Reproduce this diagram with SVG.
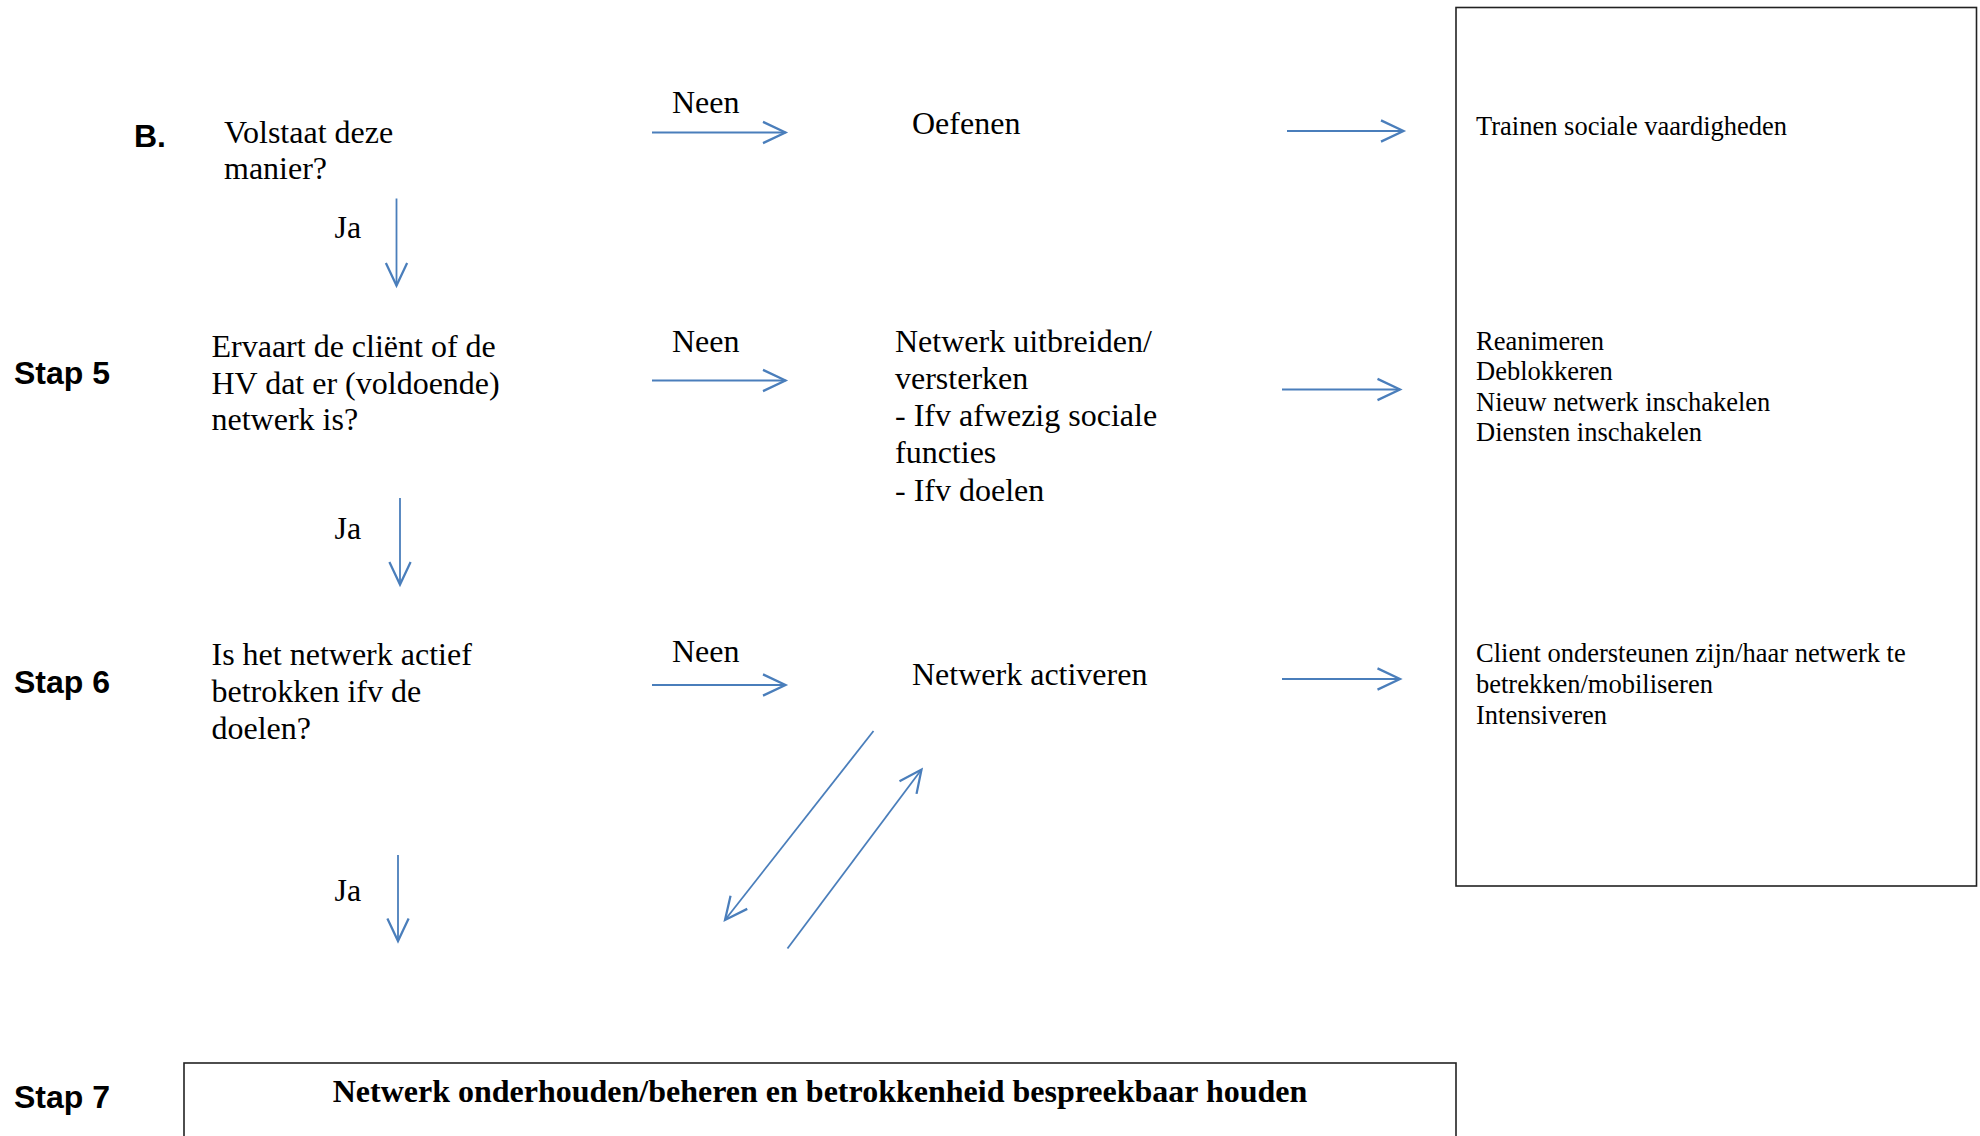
<svg xmlns="http://www.w3.org/2000/svg" width="1980" height="1136" viewBox="0 0 1980 1136">
<style>
.t{font-family:"Liberation Serif","Times New Roman",serif;font-size:32px;fill:#000}
.s{font-family:"Liberation Serif","Times New Roman",serif;font-size:26.5px;fill:#000}
.b{font-family:"Liberation Sans",Arial,sans-serif;font-size:32px;font-weight:bold;fill:#000}
.tb{font-family:"Liberation Serif","Times New Roman",serif;font-size:32px;font-weight:bold;fill:#000}
.box{fill:none;stroke:#222;stroke-width:1.6}
.a{fill:none;stroke:#4a7ebb;stroke-width:1.8;marker-end:url(#h)}
</style>
<defs>
<marker id="h" markerUnits="userSpaceOnUse" markerWidth="30" markerHeight="30" refX="0" refY="0" viewBox="-20 -12 24 24" orient="auto" overflow="visible">
<path d="M-18,-8.5 L0,0 L-18,8.5" fill="none" stroke="#4a7ebb" stroke-width="1.8"/>
</marker>
</defs>
<g id="labels">
<text class="b" x="134" y="147">B.</text>
<text class="b" x="14" y="384">Stap 5</text>
<text class="b" x="14" y="693">Stap 6</text>
<text class="b" x="14" y="1108">Stap 7</text>
</g>
<g id="q-volstaat">
<text class="t" x="224" y="143">Volstaat deze</text>
<text class="t" x="224" y="179">manier?</text>
</g>
<g id="q-ervaart">
<text class="t" x="211.5" y="357">Ervaart de cliënt of de</text>
<text class="t" x="211.5" y="394">HV dat er (voldoende)</text>
<text class="t" x="211.5" y="430">netwerk is?</text>
</g>
<g id="q-actief">
<text class="t" x="211.5" y="665">Is het netwerk actief</text>
<text class="t" x="211.5" y="702">betrokken ifv de</text>
<text class="t" x="211.5" y="739">doelen?</text>
</g>
<g id="oefenen">
<text class="t" x="912" y="134">Oefenen</text>
</g>
<g id="uitbreiden">
<text class="t" x="895" y="352">Netwerk uitbreiden/</text>
<text class="t" x="895" y="389">versterken</text>
<text class="t" x="895" y="426">- Ifv afwezig sociale</text>
<text class="t" x="895" y="463">functies</text>
<text class="t" x="895" y="501">- Ifv doelen</text>
</g>
<g id="activeren">
<text class="t" x="912" y="685">Netwerk activeren</text>
</g>
<g id="acties">
<rect class="box" x="1456" y="7.5" width="520.5" height="878.5"/>
<text class="s" x="1476" y="135">Trainen sociale vaardigheden</text>
<text class="s" x="1476" y="349.5">Reanimeren</text>
<text class="s" x="1476" y="380">Deblokkeren</text>
<text class="s" x="1476" y="410.5">Nieuw netwerk inschakelen</text>
<text class="s" x="1476" y="441">Diensten inschakelen</text>
<text class="s" x="1476" y="662">Client ondersteunen zijn/haar netwerk te</text>
<text class="s" x="1476" y="693">betrekken/mobiliseren</text>
<text class="s" x="1476" y="724">Intensiveren</text>
</g>
<g id="stap7">
<rect class="box" x="184" y="1063" width="1272" height="120"/>
<text class="tb" x="820" y="1102" text-anchor="middle">Netwerk onderhouden/beheren en betrokkenheid bespreekbaar houden</text>
</g>
<g id="connectors">
<line class="a" x1="652" y1="132.5" x2="785.5" y2="132.5"/>
<line class="a" x1="652" y1="380.5" x2="785.5" y2="380.5"/>
<line class="a" x1="652" y1="685" x2="785.5" y2="685"/>
<line class="a" x1="1287" y1="131" x2="1403.5" y2="131"/>
<line class="a" x1="1282" y1="389.5" x2="1400" y2="389.5"/>
<line class="a" x1="1282" y1="679" x2="1400" y2="679"/>
<line class="a" x1="396.5" y1="198.5" x2="396.5" y2="285.5"/>
<line class="a" x1="400" y1="498" x2="400" y2="584.5"/>
<line class="a" x1="398" y1="855" x2="398" y2="941"/>
<line class="a" x1="873.5" y1="731" x2="725" y2="920"/>
<line class="a" x1="787.5" y1="948.5" x2="921.5" y2="769.5"/>
<text class="t" x="672" y="113">Neen</text>
<text class="t" x="672" y="352">Neen</text>
<text class="t" x="672" y="661.5">Neen</text>
<text class="t" x="334.5" y="238">Ja</text>
<text class="t" x="334.5" y="539">Ja</text>
<text class="t" x="334.5" y="901">Ja</text>
</g>
</svg>
